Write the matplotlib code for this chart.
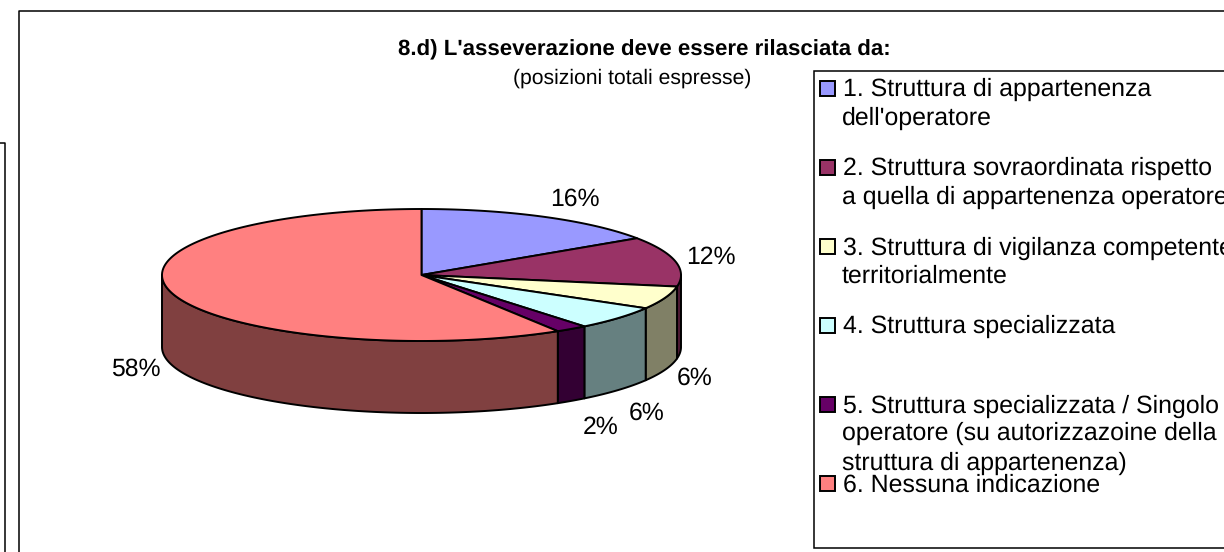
import numpy as np
import matplotlib
matplotlib.use('Agg')
import matplotlib.pyplot as plt
from matplotlib.patches import Polygon, Rectangle

plt.rcParams['font.family'] = ['Liberation Sans', 'DejaVu Sans']
plt.rcParams['text.hinting'] = 'none'

# Slice sizes (%), clockwise from 12 o'clock
values = [15.6, 12.2, 5.6, 5.8, 2.0, 58.8]
value_labels = ['16%', '12%', '6%', '6%', '2%', '58%']
top_colors = ['#9999FF', '#993366', '#FFFFCC', '#CCFFFF', '#660066', '#FF8080']
wall_colors = ['#4C4C80', '#4C1933', '#808066', '#668080', '#330033', '#804040']

title = "8.d) L'asseverazione deve essere rilasciata da:"
subtitle = '(posizioni totali espresse)'
legend_entries = [
    ['1. Struttura di appartenenza', "dell'operatore"],
    ['2. Struttura sovraordinata rispetto', 'a quella di appartenenza operatore'],
    ['3. Struttura di vigilanza competente', 'territorialmente'],
    ['4. Struttura specializzata'],
    ['5. Struttura specializzata / Singolo', 'operatore (su autorizzazoine della', 'struttura di appartenenza)'],
    ['6. Nessuna indicazione'],
]

# Layout, in image pixels
cx, cy = 421.5, 275
rx, ry = 259.5, 66
depth = 72
label_xy = [(575, 199), (711, 257), (695, 378), (647, 413), (601, 427), (136, 369)]
swatch_y = [88, 167, 246, 325, 404, 483]
legend_baselines = [[96, 125], [175, 204], [255, 283], [333], [413, 440, 470], [492]]

dpi = 100
fig = plt.figure(figsize=(1224 / dpi, 552 / dpi), dpi=dpi)
ax = fig.add_axes([0, 0, 1, 1])
ax.set_xlim(0, 1224)
ax.set_ylim(552, 0)
ax.axis('off')

lw = 1.4


def rim(a0, a1):
    a = np.radians(np.linspace(a0, a1, max(int(abs(a1 - a0)) * 2, 2)))
    return cx + rx * np.sin(a), cy - ry * np.cos(a)


# Frames: they run off the picture on the cut sides
ax.plot([18.5, 18.5, 1230], [560, 10.5, 10.5], color='black', lw=1.1)
ax.plot([-5, 5, 5], [143, 143, 560], color='black', lw=1.1)
ax.add_patch(Rectangle((814, 71), 420, 477, fc='white', ec='black', lw=1.1))

edges = 360 * np.cumsum([0] + values) / sum(values)

# Walls of the front half
for i in range(len(values)):
    a0, a1 = max(edges[i], 90), min(edges[i + 1], 270)
    if a1 <= a0:
        continue
    x, y = rim(a0, a1)
    pts = np.r_[np.c_[x, y], np.c_[x[::-1], y[::-1] + depth]]
    ax.add_patch(Polygon(pts, closed=True, fc=wall_colors[i], ec='black', lw=lw, joinstyle='round'))

# Top faces
for i in range(len(values)):
    x, y = rim(edges[i], edges[i + 1])
    pts = np.r_[[[cx, cy]], np.c_[x, y]]
    ax.add_patch(Polygon(pts, closed=True, fc=top_colors[i], ec='black', lw=lw, joinstyle='round'))

for (x, y), s in zip(label_xy, value_labels):
    ax.text(x, y, s, fontsize=17.8, ha='center', va='center')

ax.text(644, 50, title, fontsize=16, fontweight='bold', ha='center', va='center')
ax.text(632.5, 78, subtitle, fontsize=15.25, ha='center', va='center')

# Legend, hand placed like the original where the last entries collide
for entry, sy, bases, col in zip(legend_entries, swatch_y, legend_baselines, top_colors):
    ax.add_patch(Rectangle((820, sy - 7.5), 15, 15, fc=col, ec='black', lw=lw))
    for j, (line, b) in enumerate(zip(entry, bases)):
        ax.text(843 if j == 0 else 842, b, line, fontsize=17.9, ha='left', va='baseline')

fig.savefig('out.png', dpi=dpi)
